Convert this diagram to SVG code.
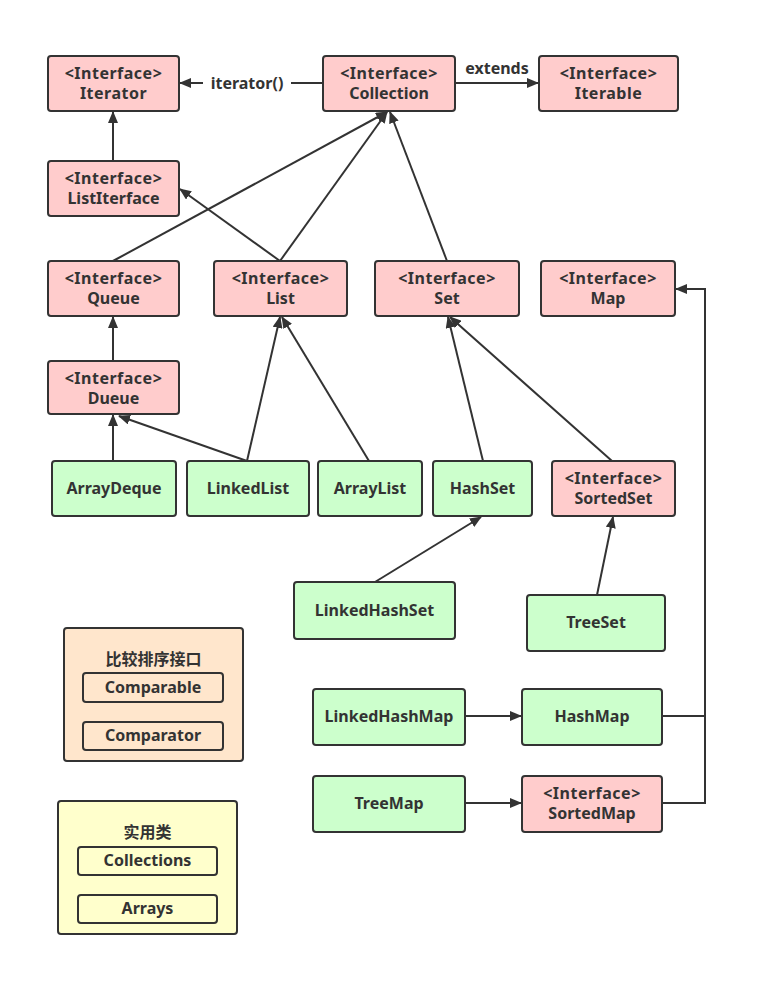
<svg xmlns="http://www.w3.org/2000/svg" width="767" height="996" viewBox="0 0 767 996">
<defs>
<style>
.n rect{stroke:#333;stroke-width:2}
.i{fill:#FFCCCC}
.c{fill:#CCFFCC}
.t{font-family:"Noto Sans","Noto Sans CJK SC",sans-serif;font-weight:bold;font-size:16px;fill:#333;text-anchor:middle}
.s{letter-spacing:0.5px}
.e{stroke:#333;stroke-width:2;fill:none}
</style>
<marker id="a" markerUnits="userSpaceOnUse" markerWidth="12" markerHeight="10" refX="11" refY="5" orient="auto">
<path d="M0,0 L12,5 L0,10 z" fill="#333"/>
</marker>
</defs>
<rect width="767" height="996" fill="#fff"/>
<g id="connectors">
<line class="e" x1="322" y1="83" x2="180" y2="83" marker-end="url(#a)"/>
<rect x="203" y="72" width="88" height="22" fill="#fff"/>
<text class="t" x="247" y="89">iterator()</text>
<line class="e" x1="455" y1="83" x2="538" y2="83" marker-end="url(#a)"/>
<text class="t" x="497" y="74">extends</text>
<line class="e" x1="113" y1="161" x2="113" y2="112" marker-end="url(#a)"/>
<line class="e" x1="113" y1="261" x2="387" y2="112" marker-end="url(#a)"/>
<line class="e" x1="280" y1="261" x2="387" y2="112" marker-end="url(#a)"/>
<line class="e" x1="447" y1="261" x2="390" y2="112" marker-end="url(#a)"/>
<line class="e" x1="280" y1="261" x2="180" y2="189" marker-end="url(#a)"/>
<line class="e" x1="113" y1="361" x2="113" y2="317" marker-end="url(#a)"/>
<line class="e" x1="113" y1="461" x2="113" y2="415" marker-end="url(#a)"/>
<line class="e" x1="247" y1="461" x2="119" y2="416" marker-end="url(#a)"/>
<line class="e" x1="247" y1="461" x2="280" y2="317" marker-end="url(#a)"/>
<line class="e" x1="369" y1="461" x2="282" y2="317" marker-end="url(#a)"/>
<line class="e" x1="483" y1="461" x2="448" y2="317" marker-end="url(#a)"/>
<line class="e" x1="612" y1="461" x2="450" y2="317" marker-end="url(#a)"/>
<line class="e" x1="375" y1="582" x2="481" y2="517" marker-end="url(#a)"/>
<line class="e" x1="597" y1="595" x2="613" y2="517" marker-end="url(#a)"/>
<line class="e" x1="465" y1="716" x2="521" y2="716" marker-end="url(#a)"/>
<line class="e" x1="465" y1="803" x2="521" y2="803" marker-end="url(#a)"/>
<polyline class="e" points="662,716 705,716"/>
<polyline class="e" points="662,803 705,803 705,289 676,289" marker-end="url(#a)"/>
</g>
<g id="Iterator" class="n"><rect class="i" x="48" y="56" width="131" height="55" rx="3"/><text class="t s" x="113.5" y="79">&lt;Interface&gt;</text><text class="t s" x="113.5" y="99">Iterator</text></g>
<g id="ListIterface" class="n"><rect class="i" x="48" y="161" width="131" height="55" rx="3"/><text class="t s" x="113.5" y="184">&lt;Interface&gt;</text><text class="t" x="113.5" y="204">ListIterface</text></g>
<g id="Collection" class="n"><rect class="i" x="323" y="56" width="132" height="55" rx="3"/><text class="t s" x="389" y="79">&lt;Interface&gt;</text><text class="t" x="389" y="99">Collection</text></g>
<g id="Iterable" class="n"><rect class="i" x="539" y="56" width="139" height="55" rx="3"/><text class="t s" x="608.5" y="79">&lt;Interface&gt;</text><text class="t s" x="608.5" y="99">Iterable</text></g>
<g id="Queue" class="n"><rect class="i" x="48" y="261" width="131" height="55" rx="3"/><text class="t s" x="113.5" y="284">&lt;Interface&gt;</text><text class="t" x="113.5" y="304">Queue</text></g>
<g id="List" class="n"><rect class="i" x="214" y="261" width="133" height="55" rx="3"/><text class="t s" x="280.5" y="284">&lt;Interface&gt;</text><text class="t" x="280.5" y="304">List</text></g>
<g id="Set" class="n"><rect class="i" x="375" y="261" width="144" height="55" rx="3"/><text class="t s" x="447" y="284">&lt;Interface&gt;</text><text class="t" x="447" y="304">Set</text></g>
<g id="Map" class="n"><rect class="i" x="541" y="261" width="134" height="55" rx="3"/><text class="t s" x="608" y="284">&lt;Interface&gt;</text><text class="t" x="608" y="304">Map</text></g>
<g id="Dueue" class="n"><rect class="i" x="48" y="361" width="131" height="53" rx="3"/><text class="t s" x="113.5" y="384">&lt;Interface&gt;</text><text class="t" x="113.5" y="404">Dueue</text></g>
<g id="ArrayDeque" class="n"><rect class="c" x="52" y="461" width="124" height="55" rx="3"/><text class="t" x="114" y="494">ArrayDeque</text></g>
<g id="LinkedList" class="n"><rect class="c" x="187" y="461" width="122" height="55" rx="3"/><text class="t" x="248" y="494">LinkedList</text></g>
<g id="ArrayList" class="n"><rect class="c" x="318" y="461" width="104" height="55" rx="3"/><text class="t" x="370" y="494">ArrayList</text></g>
<g id="HashSet" class="n"><rect class="c" x="433" y="461" width="99" height="55" rx="3"/><text class="t" x="482.5" y="494">HashSet</text></g>
<g id="SortedSet" class="n"><rect class="i" x="552" y="461" width="123" height="55" rx="3"/><text class="t s" x="613.5" y="484">&lt;Interface&gt;</text><text class="t" x="613.5" y="504">SortedSet</text></g>
<g id="LinkedHashSet" class="n"><rect class="c" x="294" y="582" width="161" height="57" rx="3"/><text class="t" x="374.5" y="616">LinkedHashSet</text></g>
<g id="TreeSet" class="n"><rect class="c" x="527" y="595" width="138" height="56" rx="3"/><text class="t" x="596" y="628">TreeSet</text></g>
<g id="LinkedHashMap" class="n"><rect class="c" x="313" y="689" width="152" height="56" rx="3"/><text class="t" x="389" y="722">LinkedHashMap</text></g>
<g id="HashMap" class="n"><rect class="c" x="522" y="689" width="140" height="56" rx="3"/><text class="t" x="592" y="722">HashMap</text></g>
<g id="TreeMap" class="n"><rect class="c" x="313" y="776" width="152" height="56" rx="3"/><text class="t" x="389" y="809">TreeMap</text></g>
<g id="SortedMap" class="n"><rect class="i" x="522" y="776" width="140" height="56" rx="3"/><text class="t s" x="592" y="799">&lt;Interface&gt;</text><text class="t" x="592" y="819">SortedMap</text></g>
<g id="CompareGroup" class="n"><rect x="64" y="628" width="179" height="133" rx="3" fill="#FFE6CC"/><text class="t" x="153.5" y="665">比较排序接口</text>
<rect x="83" y="673" width="140" height="29" rx="3" fill="#FFE6CC"/><text class="t" x="153" y="693">Comparable</text>
<rect x="83" y="722" width="140" height="28" rx="3" fill="#FFE6CC"/><text class="t" x="153" y="741">Comparator</text></g>
<g id="UtilGroup" class="n"><rect x="58" y="801" width="179" height="133" rx="3" fill="#FFFFCC"/><text class="t" x="147.5" y="838">实用类</text>
<rect x="78" y="847" width="139" height="28" rx="3" fill="#FFFFCC"/><text class="t" x="147.5" y="866">Collections</text>
<rect x="78" y="895" width="139" height="28" rx="3" fill="#FFFFCC"/><text class="t" x="147.5" y="914">Arrays</text></g>
</svg>
